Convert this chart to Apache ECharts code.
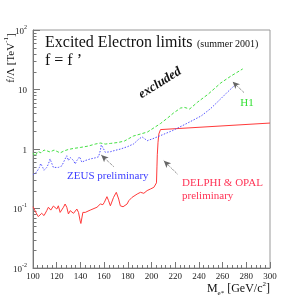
<!DOCTYPE html>
<html><head><meta charset="utf-8">
<script src="https://cdn.jsdelivr.net/npm/echarts@6/dist/echarts.min.js"></script>
<style>html,body{margin:0;padding:0;background:#fff}#c{width:300px;height:300px}</style>
</head><body><div id="c"></div>
<script>
// ---- data ----
const redMass  = [100,103.1,104.5,107.3,109.3,111.6,113,115,117.2,120.1,121.4,122.9,125.7,127.1,128.5,129.9,131.4,134.2,137,138.4,139.8,140.4,142.1,144.1,148.3,154,156.8,159,160.2,162.4,163.8,165.3,166.7,168,170.3,172.3,173.7,176,179.4,180.8,183.6,187.9,190.7,193.5,196.3,199.2,202,203.4,204.2,204.6,204.9,205.5,206.2,207.6,300];
const redLimit = [0.107,0.081,0.073,0.083,0.076,0.092,0.105,0.094,0.110,0.098,0.111,0.086,0.105,0.119,0.105,0.081,0.092,0.083,0.098,0.086,0.062,0.056,0.086,0.086,0.094,0.105,0.119,0.116,0.127,0.158,0.135,0.111,0.119,0.154,0.187,0.144,0.111,0.107,0.119,0.135,0.154,0.175,0.187,0.18,0.2,0.213,0.227,0.24,0.27,0.5,0.8,1.3,1.79,2.12,2.73];

const blueMass  = [100,103.1,105.4,106.5,108.2,109.3,111.6,113,114.4,115.8,117.2,118.6,121.4,124.3,127.1,128.5,129.9,131.4,132.8,134.2,135.6,137,139.3,141.2,144.1,148.3,152.5,155.3,156.8,157.6,158.2,159.6,161,165.3,169.5,174,180,185,189,192,194,196.4,200.8,207.6,218,230,242,250,258.5,264,269.5];
const blueLimit = [0.37,0.41,0.49,0.57,0.49,0.44,0.49,0.56,0.68,0.64,0.49,0.46,0.49,0.52,0.68,0.77,0.64,0.72,0.74,0.64,0.56,0.64,0.74,0.60,0.64,0.68,0.71,0.74,0.94,1.17,1.21,1.0,0.88,0.9,0.95,1.0,1.1,1.22,1.45,1.6,1.5,1.38,1.48,1.68,2.05,2.7,3.6,4.8,7.0,9.0,11.4];

const greenMass  = [100,101.7,104.2,106.8,109.3,111.9,114.4,117.8,120.3,122.9,126.3,129.7,133.9,139.8,146.6,152.5,156.8,161,165.3,172,177.1,184.7,196.6,207.6,213.6,218.6,224.6,228,232.2,239,247.5,258.5,267,277];
const greenLimit = [0.86,0.76,0.91,0.86,0.96,0.93,0.89,0.96,0.91,0.86,0.93,0.98,1.02,1.06,1.12,1.21,1.26,1.21,1.24,1.29,1.36,1.65,1.93,2.68,3.32,4.03,4.89,4.99,4.70,6.16,8.25,12.9,16.8,22.2];

const xTickValues = [100,120,140,160,180,200,220,240,260,280,300];
const yDecades = [0.01,0.1,1,10,100];
const yTickLabels = ['10^-2','10^-1','1','10','10^2'];
const yMinorTicks = [];
for (const d of [0.01,0.1,1,10]) for (const m of [2,3,4,5,6,7,8,9]) yMinorTicks.push(+(d*m).toPrecision(3));

// arrows: [tail, head] in data coordinates
const arrowH1   = [[278,8.9],[268.5,13.5]];
const arrowZEUS = [[168,0.508],[157.6,0.79]];
const arrowLEP  = [[221.8,0.38],[210.4,0.636]];

const zip = (a,b) => a.map((v,i)=>[v,b[i]]);
const SERIF = '"Liberation Serif", "DejaVu Serif", serif';
const AX = '#777';

const chart = echarts.init(document.getElementById('c'));
function arrowLine(pts){
  return {silent:true, symbol:['none','arrow'], symbolSize:[5,7],
    lineStyle:{color:'#666', type:'dotted', width:1},
    label:{show:false},
    data:[[{coord:pts[0]},{coord:pts[1]}]]};
}
chart.setOption({
  animation:false,
  backgroundColor:'#fff',
  grid:{left:33,right:30,top:30,bottom:32,show:true,borderColor:'#999',borderWidth:1,backgroundColor:'transparent'},
  xAxis:{type:'value',min:100,max:300,interval:20,
    axisLine:{show:true,lineStyle:{color:AX}},
    axisTick:{show:true,inside:true,length:6,lineStyle:{color:AX}},
    minorTick:{show:true,splitNumber:5,length:3,lineStyle:{color:AX}},
    splitLine:{show:false},
    axisLabel:{fontFamily:SERIF,fontSize:9,color:'#222',margin:4,
      formatter:v=>xTickValues.includes(v)?String(v):''}},
  yAxis:{type:'log',logBase:10,min:0.01,max:100,
    axisLine:{show:true,lineStyle:{color:AX}},
    axisTick:{show:true,inside:true,length:7,lineStyle:{color:AX}},
    splitLine:{show:false},
    axisLabel:{fontFamily:SERIF,color:'#222',margin:6,
      formatter:v=>{
        const i = yDecades.findIndex(d=>Math.abs(d-v)/d<1e-6);
        const s = i<0 ? '' : yTickLabels[i];
        if (s.indexOf('^')<0) return '{b|'+s+'}';
        const p = s.split('^');
        return '{b|'+p[0]+'}{s|'+p[1]+'}';
      },
      rich:{b:{fontFamily:SERIF,fontSize:9,color:'#222',lineHeight:12,verticalAlign:'bottom'},
            s:{fontFamily:SERIF,fontSize:6,color:'#222',lineHeight:12,verticalAlign:'top'}}}},
  series:[
    {type:'custom',silent:true,coordinateSystem:'cartesian2d',
      data:yMinorTicks.map(v=>[100,v]),encode:{x:0,y:1},
      renderItem:(params,api)=>{const p=api.coord([100,api.value(1)]);
        const y=Math.round(p[1])+0.5;
        return {type:'line',shape:{x1:p[0],y1:y,x2:p[0]+3.5,y2:y},style:{stroke:AX,lineWidth:1}};}},
    {type:'line',name:'DELPHI & OPAL',data:zip(redMass,redLimit),showSymbol:false,symbol:'none',
      lineStyle:{color:'#ff3a3a',width:1},z:3},
    {type:'line',name:'ZEUS',data:zip(blueMass,blueLimit),showSymbol:false,symbol:'none',
      lineStyle:{color:'#5555ff',width:1,type:[1.5,1.5]},z:3,
      markLine:arrowLine(arrowZEUS)},
    {type:'line',name:'H1',data:zip(greenMass,greenLimit),showSymbol:false,symbol:'none',
      lineStyle:{color:'#44e044',width:1,type:[3,2]},z:3,
      markLine:arrowLine(arrowH1)},
    {type:'line',name:'lep-arrow',data:[],markLine:arrowLine(arrowLEP)}
  ],
  graphic:[
    {type:'text',x:45,y:43,style:{text:'Excited Electron limits',font:'16px '+SERIF,fill:'#111',verticalAlign:'middle'}},
    {type:'text',x:197,y:44,style:{text:'(summer 2001)',font:'10px '+SERIF,fill:'#111',verticalAlign:'middle'}},
    {type:'text',x:45,y:61,style:{text:'f = f \u2019',font:'16px '+SERIF,fill:'#111',verticalAlign:'middle'}},
    {type:'text',x:160,y:83,rotation:0.56,style:{text:'excluded',font:'italic bold 13px '+SERIF,fill:'#111',align:'center',verticalAlign:'middle'}},
    {type:'text',x:247,y:103,style:{text:'H1',font:'11px '+SERIF,fill:'#33e033',align:'center',verticalAlign:'middle'}},
    {type:'text',x:67,y:176,style:{text:'ZEUS preliminary',font:'11px '+SERIF,fill:'#3f3fff',verticalAlign:'middle'}},
    {type:'text',x:182,y:183,style:{text:'DELPHI & OPAL',font:'11px '+SERIF,fill:'#ff3355',verticalAlign:'middle'}},
    {type:'text',x:182,y:196,style:{text:'preliminary',font:'11px '+SERIF,fill:'#ff3355',verticalAlign:'middle'}},
    {type:'text',x:10,y:58,rotation:Math.PI/2,style:{text:'{n|f/\u039B [TeV}{s|-1}{n|]}',align:'center',verticalAlign:'middle',
      rich:{n:{font:'11px '+SERIF,fill:'#111',lineHeight:14,verticalAlign:'bottom'},s:{font:'7px '+SERIF,fill:'#111',lineHeight:14,verticalAlign:'top'}}}},
    {type:'text',x:270,y:289,style:{text:'{n|M}{u|e*}{n| [GeV/c}{s|2}{n|]}',align:'right',verticalAlign:'middle',
      rich:{n:{font:'12px '+SERIF,fill:'#111',lineHeight:16,verticalAlign:'middle'},
            u:{font:'7px '+SERIF,fill:'#111',lineHeight:16,verticalAlign:'bottom'},
            s:{font:'7px '+SERIF,fill:'#111',lineHeight:16,verticalAlign:'top'}}}}
  ]
});
</script></body></html>
